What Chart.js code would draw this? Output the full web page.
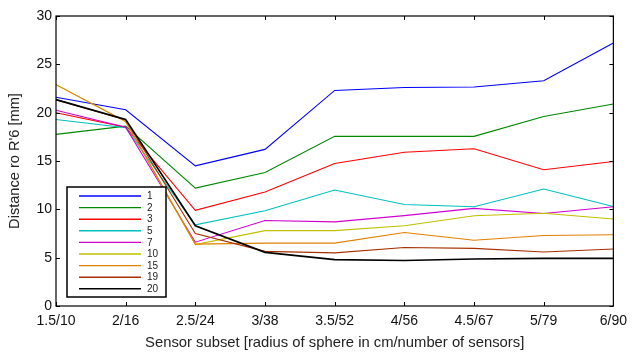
<!DOCTYPE html>
<html>
<head>
<meta charset="utf-8">
<script src="https://cdn.jsdelivr.net/npm/chart.js@4.4.1/dist/chart.umd.min.js"></script>
<style>
  html, body { margin: 0; padding: 0; background: #fff; }
  #wrap { width: 634px; height: 354px; }
</style>
</head>
<body>
<div id="wrap"><canvas id="myChart" width="634" height="354"></canvas></div>
<script>
// sensor subsets on the x axis
const subsets = ['1.5/10', '2/16', '2.5/24', '3/38', '3.5/52', '4/56', '4.5/67', '5/79', '6/90'];
const yTicks = [0, 5, 10, 15, 20, 25, 30];

// distance per series (legend label = number)
const s1  = [21.6, 20.3, 14.5, 16.2, 22.3, 22.6, 22.65, 23.3, 27.2];
const s2  = [17.75, 18.6, 12.2, 13.8, 17.55, 17.55, 17.55, 19.6, 20.9];
const s3  = [20.0, 18.5, 9.9, 11.8, 14.75, 15.9, 16.27, 14.1, 14.95];
const s5  = [19.3, 18.45, 8.4, 9.85, 12.0, 10.5, 10.26, 12.1, 10.3];
const s7  = [20.25, 18.5, 6.6, 8.85, 8.7, 9.35, 10.1, 9.57, 10.26];
const s10 = [22.9, 19.05, 6.35, 7.8, 7.8, 8.3, 9.33, 9.6, 9.0];
const s15 = [22.9, 19.1, 6.4, 6.5, 6.5, 7.6, 6.8, 7.3, 7.37];
const s19 = [21.35, 19.25, 7.5, 5.65, 5.5, 6.05, 5.96, 5.58, 5.9];
const s20 = [21.35, 19.3, 8.3, 5.55, 4.8, 4.7, 4.86, 4.93, 4.93];

const FONT = 'Liberation Sans, Arial, Helvetica, sans-serif';

let dsCount = 0;
function ds(label, data, color, width) {
  dsCount++;
  return {
    label: label,
    data: data,
    borderColor: color,
    backgroundColor: color,
    borderWidth: width || 1.1,
    pointRadius: 0,
    tension: 0,
    fill: false,
    order: 100 - dsCount // later series drawn on top, like gnuplot
  };
}

// inward ticks + box + legend inside the plot, gnuplot style
const framePlugin = {
  id: 'frame',
  afterDraw(chart) {
    const ctx = chart.ctx;
    const a = chart.chartArea;
    const xs = chart.scales.x;
    const ys = chart.scales.y;
    ctx.save();
    ctx.strokeStyle = '#000';
    ctx.lineWidth = 1.2;
    ctx.strokeRect(a.left, a.top, a.right - a.left, a.bottom - a.top);
    ctx.lineWidth = 1;
    ctx.beginPath();
    for (let i = 0; i < subsets.length; i++) {
      const px = Math.round(xs.getPixelForValue(i)) + 0.5;
      ctx.moveTo(px, a.bottom); ctx.lineTo(px, a.bottom - 4);
      ctx.moveTo(px, a.top); ctx.lineTo(px, a.top + 4);
    }
    yTicks.forEach((v) => {
      const py = Math.round(ys.getPixelForValue(v)) + 0.5;
      ctx.moveTo(a.left, py); ctx.lineTo(a.left + 4, py);
      ctx.moveTo(a.right, py); ctx.lineTo(a.right - 4, py);
    });
    ctx.stroke();

    // legend box
    const bx = 67, by = 187, bw = 99, bh = 110;
    ctx.fillStyle = '#fff';
    ctx.fillRect(bx, by, bw, bh);
    ctx.lineWidth = 1.5;
    ctx.strokeRect(bx, by, bw, bh);
    ctx.font = '10px ' + FONT;
    ctx.textBaseline = 'middle';
    ctx.textAlign = 'left';
    chart.data.datasets.forEach((d, i) => {
      const ly = by + 9 + i * 11.6;
      ctx.strokeStyle = d.borderColor;
      ctx.lineWidth = 1.4;
      ctx.beginPath();
      ctx.moveTo(bx + 12, ly); ctx.lineTo(bx + 74, ly);
      ctx.stroke();
      ctx.fillStyle = '#222';
      ctx.fillText(d.label, bx + 80, ly + 0.5);
    });
    ctx.restore();
  }
};

const ctx = document.getElementById('myChart').getContext('2d');

const data = {
  labels: subsets,
  datasets: [
    ds('1', s1, '#0000ff'),
    ds('2', s2, '#008800'),
    ds('3', s3, '#ff0000'),
    ds('5', s5, '#00c0c0'),
    ds('7', s7, '#d000d0'),
    ds('10', s10, '#c0c000'),
    ds('15', s15, '#e08000'),
    ds('19', s19, '#a83000'),
    ds('20', s20, '#000000', 1.6)
  ]
};

const myChart = new Chart(ctx, {
  type: 'line',
  data: data,
  plugins: [framePlugin],
  options: {
    responsive: false,
    animation: false,
    layout: { padding: { top: 16, right: 14, left: 0, bottom: 0 } },
    plugins: {
      legend: { display: false },
      tooltip: { enabled: false }
    },
    scales: {
      x: {
        type: 'category',
        offset: false,
        grid: { display: false, drawTicks: false },
        border: { display: false },
        ticks: {
          color: '#111',
          font: { family: FONT, size: 14 },
          padding: 7,
          maxRotation: 0,
          autoSkip: false
        },
        title: {
          display: true,
          text: 'Sensor subset [radius of sphere in cm/number of sensors]',
          color: '#222',
          font: { family: FONT, size: 14.8 },
          padding: { top: 0, bottom: 2 }
        },
        afterFit(scale) { scale.height = 48; }
      },
      y: {
        min: 0,
        max: 30,
        afterBuildTicks(scale) { scale.ticks = yTicks.map((v) => ({ value: v })); },
        grid: { display: false, drawTicks: false },
        border: { display: false },
        ticks: {
          color: '#111',
          font: { family: FONT, size: 14 },
          padding: 4
        },
        title: {
          display: true,
          text: "Distance ro R'6 [mm]",
          color: '#222',
          font: { family: FONT, size: 14.6 },
          padding: { top: 6, bottom: 0 }
        },
        afterFit(scale) { scale.width = 56; }
      }
    }
  }
});
</script>
</body>
</html>
